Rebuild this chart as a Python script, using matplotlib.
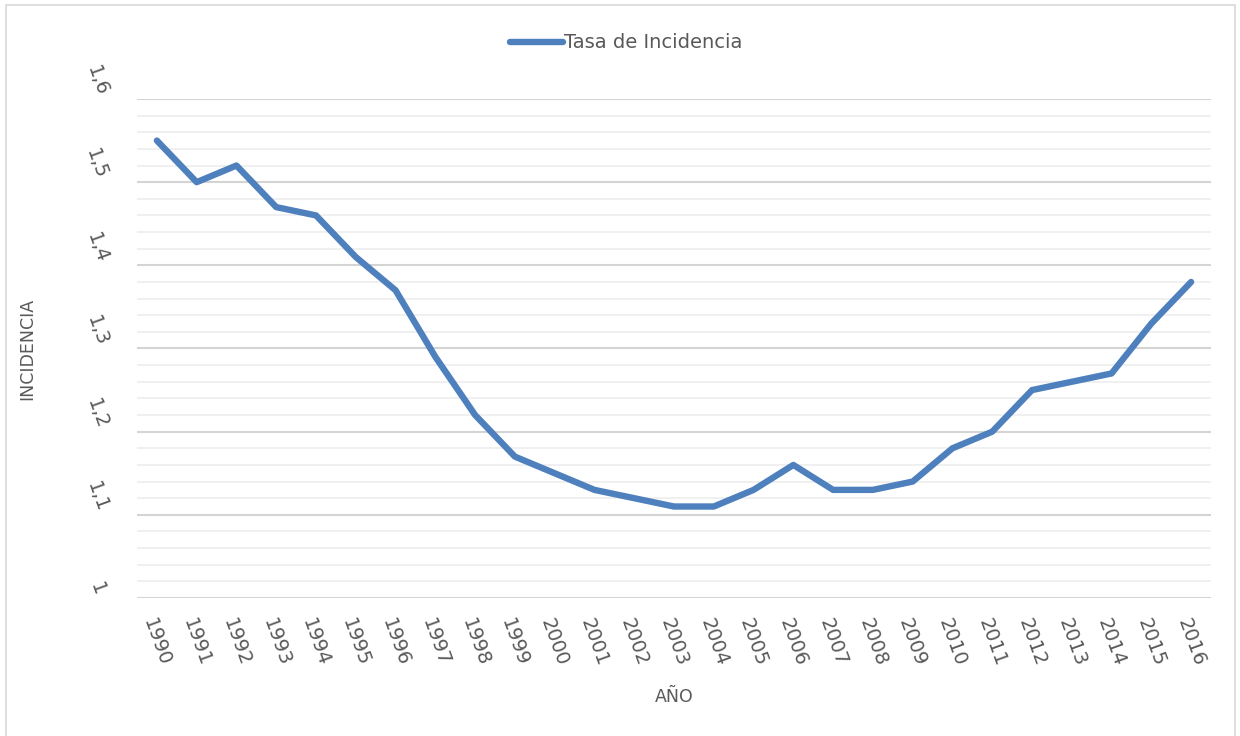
import matplotlib
matplotlib.use('Agg')
import matplotlib.pyplot as plt
from matplotlib.patches import Rectangle
import numpy as np

# data
years = [str(y) for y in range(1990, 2017)]
tasa = [1.55, 1.50, 1.52, 1.47, 1.46, 1.41, 1.37, 1.29, 1.22, 1.17,
        1.15, 1.13, 1.12, 1.11, 1.11, 1.13, 1.16, 1.13, 1.13, 1.14,
        1.18, 1.20, 1.25, 1.26, 1.27, 1.33, 1.38]
yticks = [1.0, 1.1, 1.2, 1.3, 1.4, 1.5, 1.6]
ytick_labels = ['1', '1,1', '1,2', '1,3', '1,4', '1,5', '1,6']

TXT = '#595959'
plt.rcParams['font.family'] = ['DejaVu Sans']

fig = plt.figure(figsize=(12.4, 7.36), dpi=100)
ax = fig.add_axes([137/1240, 1 - 598/736, (1211-137)/1240, (598-99)/736])

# outer chart border like the excel chart area
fig.patches.append(Rectangle((6/1240, -0.01), (1235-6)/1240, 1.01 - 5/736,
                             transform=fig.transFigure, fill=False,
                             edgecolor='#d9d9d9', linewidth=1.2))

x = np.arange(len(years))
ax.plot(x, tasa, color='#4e80bd', linewidth=4.6, solid_capstyle='round',
        solid_joinstyle='round', label='Tasa de Incidencia', zorder=3)

ax.set_xlim(-0.5, len(years) - 0.5)
ax.set_ylim(1.0, 1.6)

# gridlines
for v in np.arange(1.0, 1.6001, 0.02):
    if abs(round(v*10) - v*10) < 1e-6:
        ax.axhline(v, color='#d4d4d4', linewidth=1.5, zorder=1)
    else:
        ax.axhline(v, color='#f0f0f0', linewidth=1.4, zorder=1)

for s in ax.spines.values():
    s.set_visible(False)

ax.set_yticks(yticks)
ax.set_yticklabels(ytick_labels, rotation=-70, ha='center', va='bottom',
                   fontsize=14, color=TXT)
ax.tick_params(axis='y', length=0, pad=29)

ax.set_xticks(x)
ax.set_xticklabels(years, rotation=-70, ha='center', va='top',
                   fontsize=14, color=TXT)
ax.tick_params(axis='x', length=0, pad=13)

ax.set_ylabel('INCIDENCIA', fontsize=12.5, color=TXT)
ax.yaxis.set_label_coords(-0.094, 0.5)
ax.set_xlabel('AÑO', fontsize=12.5, color=TXT)
ax.xaxis.set_label_coords(0.5, -0.18)

fig.legend(loc='center', bbox_to_anchor=(0.505, 1 - 43/736), frameon=False,
           fontsize=14, handlelength=2.7, handletextpad=0.05,
           labelcolor=TXT)

fig.savefig('out.png', dpi=100)
